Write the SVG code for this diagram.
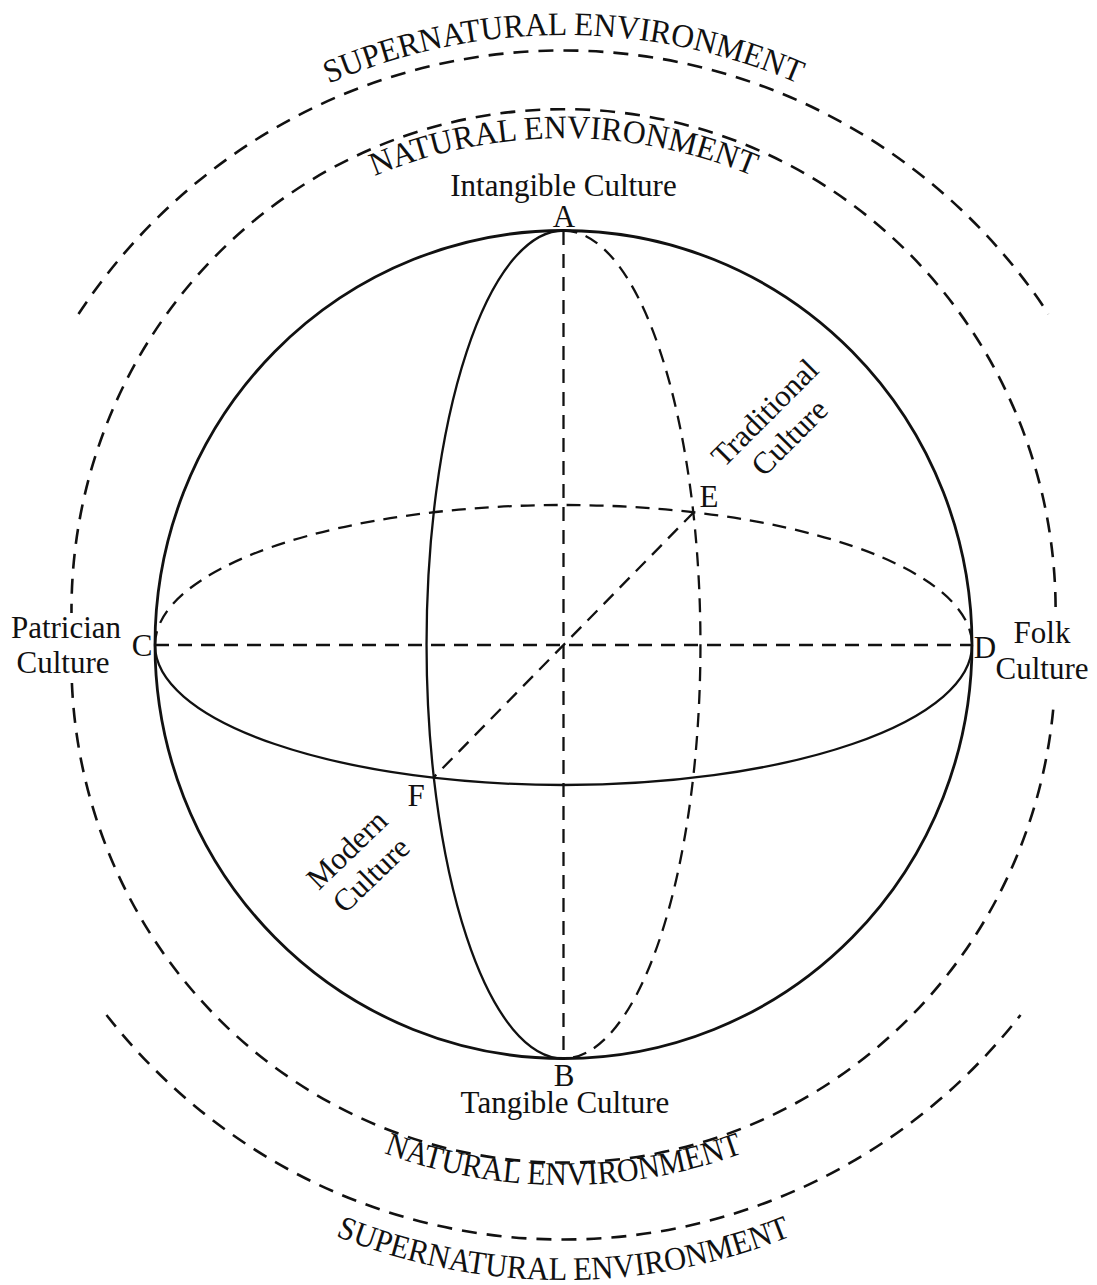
<svg xmlns="http://www.w3.org/2000/svg" width="1097" height="1285" viewBox="0 0 1097 1285">
<style>
.t{font-family:"Liberation Serif","Times New Roman",serif;font-size:31px;fill:#111;text-anchor:middle}
.arc{font-family:"Liberation Serif","Times New Roman",serif;font-size:33px;fill:#111}
.solid{fill:none;stroke:#111;stroke-width:2.3}
.main{fill:none;stroke:#111;stroke-width:2.8}
.dash{fill:none;stroke:#111;stroke-width:2.3;stroke-dasharray:14 9}
.odash{fill:none;stroke:#111;stroke-width:2.6;stroke-dasharray:15 10}
</style>
<defs>
<path id="pSupTop" d="M -35.5 645 A 599 610 0 0 1 1162.5 645"/>
<path id="pNatTop" d="M 65.5 645 A 498 507 0 0 1 1061.5 645"/>
<path id="pNatBot" d="M 33.5 645 A 530 540 0 0 0 1093.5 645"/>
<path id="pSupBot" d="M -59.5 645 A 623 635 0 0 0 1186.5 645"/>
</defs>
<rect width="1097" height="1285" fill="#fff"/>

<g id="environments">
<path class="odash" d="M 78.5 314 A 584 595 0 0 1 1048.5 314"/>
<path class="odash" d="M 106.5 1015 A 584 595 0 0 0 1020.5 1015"/>
<path class="odash" d="M 1055.6 607 A 492 501 0 0 0 71.5 613"/>
<path class="odash" d="M 71.9 683 A 492 501 0 0 0 1054 700"/>
<text class="arc"><textPath href="#pSupTop" startOffset="50%" text-anchor="middle" textLength="483" lengthAdjust="spacingAndGlyphs">SUPERNATURAL ENVIRONMENT</textPath></text>
<text class="arc"><textPath href="#pNatTop" startOffset="50%" text-anchor="middle" textLength="388" lengthAdjust="spacingAndGlyphs">NATURAL ENVIRONMENT</textPath></text>
<text class="arc"><textPath href="#pNatBot" startOffset="50%" text-anchor="middle" textLength="367" lengthAdjust="spacingAndGlyphs">NATURAL ENVIRONMENT</textPath></text>
<text class="arc"><textPath href="#pSupBot" startOffset="50%" text-anchor="middle" textLength="467" lengthAdjust="spacingAndGlyphs">SUPERNATURAL ENVIRONMENT</textPath></text>
</g>

<g id="sphere">
<ellipse class="main" cx="563.5" cy="644.5" rx="408.5" ry="414"/>
<path class="dash" d="M 155 645 A 408.5 140 0 0 1 972 645"/>
<path class="solid" d="M 155 645 A 408.5 140 0 0 0 972 645"/>
<path class="solid" d="M 563.5 230.5 A 137 414 0 0 0 563.5 1058.5"/>
<path class="dash" d="M 563.5 230.5 A 137 414 0 0 1 563.5 1058.5"/>
</g>

<g id="connectors">
<line class="dash" x1="563.5" y1="231" x2="563.5" y2="1058"/>
<line class="dash" x1="155" y1="645" x2="972" y2="645"/>
<line class="dash" x1="694" y1="512" x2="433" y2="778"/>
</g>

<g id="node-A"><text class="t" x="564" y="227">A</text><text class="t" x="563.5" y="196">Intangible Culture</text></g>
<g id="node-B"><text class="t" x="564" y="1086">B</text><text class="t" x="565" y="1113">Tangible Culture</text></g>
<g id="node-C"><text class="t" x="142" y="656">C</text><text class="t" x="66" y="638">Patrician</text><text class="t" x="63" y="673">Culture</text></g>
<g id="node-D"><text class="t" x="985" y="658">D</text><text class="t" x="1042" y="643">Folk</text><text class="t" x="1042" y="679">Culture</text></g>
<g id="node-E"><text class="t" x="709" y="507">E</text>
<g transform="translate(772,420) rotate(-45)"><text class="t" x="0" y="0">Traditional</text><text class="t" x="0" y="35">Culture</text></g></g>
<g id="node-F"><text class="t" x="416" y="806">F</text>
<g transform="translate(354,857) rotate(-44)"><text class="t" x="0" y="0">Modern</text><text class="t" x="0" y="35">Culture</text></g></g>
</svg>
